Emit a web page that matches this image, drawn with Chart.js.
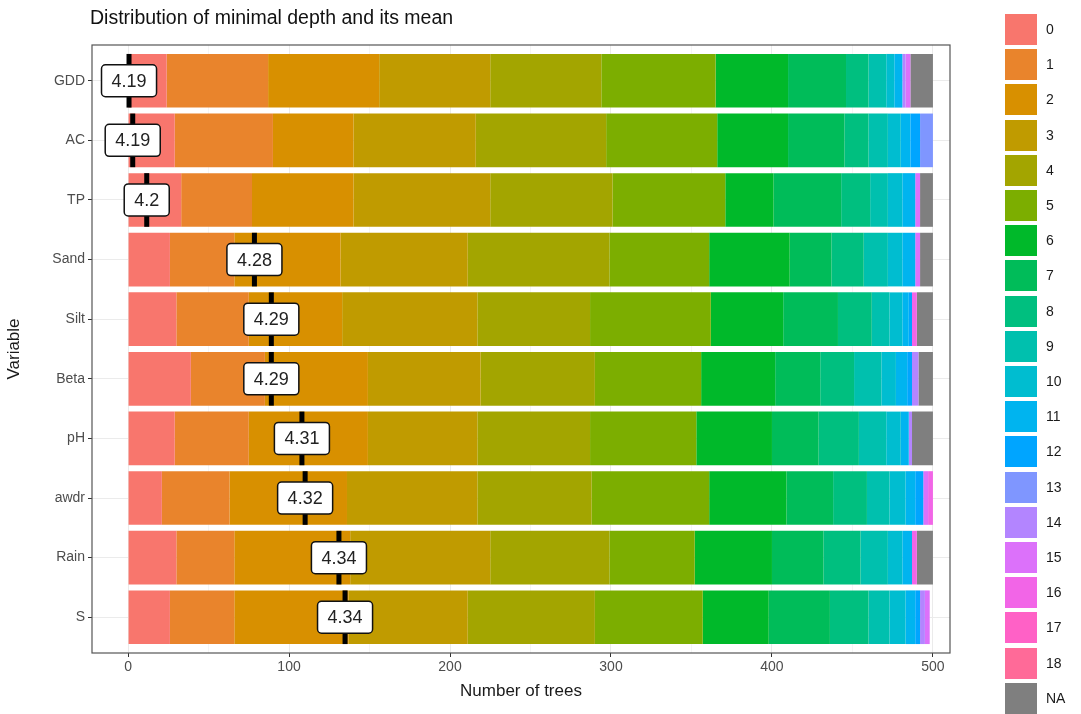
<!DOCTYPE html>
<html>
<head>
<meta charset="utf-8">
<title>Distribution of minimal depth and its mean</title>
<script src="https://cdn.jsdelivr.net/npm/chart.js@4.4.1/dist/chart.umd.min.js"></script>
<style>
  body { margin: 0; background: #fff; font-family: "Liberation Sans", Arial, sans-serif; }
  #wrap { position: relative; width: 1081px; height: 714px; }
  #chart_title { position: absolute; left: 90px; top: 6px; font-size: 19.5px; color: #111; white-space: nowrap; }
  #legend { position: absolute; left: 1005px; top: 14px; }
  .key { position: absolute; left: 0; width: 32px; height: 31px; }
  .lab { position: absolute; left: 41px; font-size: 14px; color: #1a1a1a; line-height: 31px; }
</style>
</head>
<body>
<div id="wrap">
  <canvas id="depth_Chart" width="1081" height="714"></canvas>
  <div id="chart_title">Distribution of minimal depth and its mean</div>
  <div id="legend"></div>
</div>
<script>
// variables, top to bottom
const variables = ['GDD', 'AC', 'TP', 'Sand', 'Silt', 'Beta', 'pH', 'awdr', 'Rain', 'S'];

// minimal depth levels (0..18 then NA) and their fill colours
const depthLevels = ['0', '1', '2', '3', '4', '5', '6', '7', '8', '9', '10',
  '11', '12', '13', '14', '15', '16', '17', '18', 'NA'];
const depthColors = ['#F8766D', '#E9842C', '#D89000', '#C09B00', '#A3A500', '#7CAE00',
  '#00B92A', '#00BC59', '#00BF7F', '#00C0AE', '#00BDD0', '#00B4EF', '#00A5FF',
  '#7F96FF', '#B385FF', '#DC71FA', '#F265E7', '#FF61C6', '#FF6A98', '#7F7F7F'];

// number of trees for each minimal depth (same order as depthLevels)
const gdd  = [24, 63, 69, 69, 69, 71, 45, 36, 14, 11, 5, 5, 0, 0, 2, 3, 0, 0, 0, 14];
const ac   = [29, 61, 50, 76, 81, 69, 44, 35, 15, 12, 8, 6, 6, 8, 0, 0, 0, 0, 0, 0];
const tp   = [33, 44, 63, 85, 76, 70, 30, 42, 18, 11, 9, 8, 0, 0, 0, 3, 0, 0, 0, 8];
const sand = [26, 40, 66, 79, 88, 62, 50, 26, 20, 15, 9, 8, 0, 0, 0, 3, 0, 0, 0, 8];
const silt = [30, 45, 58, 84, 70, 75, 45, 34, 21, 11, 8, 4, 2, 0, 0, 0, 3, 0, 0, 10];
const beta = [39, 46, 64, 70, 71, 66, 46, 28, 21, 17, 9, 7, 3, 0, 4, 0, 0, 0, 0, 9];
const ph   = [29, 46, 74, 68, 70, 66, 47, 29, 25, 17, 9, 5, 0, 0, 2, 0, 0, 0, 0, 13];
const awdr = [21, 42, 73, 81, 71, 73, 48, 29, 21, 14, 10, 6, 5, 0, 0, 3, 3, 0, 0, 0];
const rain = [30, 36, 72, 87, 74, 53, 48, 32, 23, 17, 9, 6, 0, 0, 0, 0, 3, 0, 0, 10];
const s    = [26, 40, 71, 74, 79, 67, 41, 38, 24, 13, 10, 6, 3, 0, 3, 3, 0, 0, 0, 0];
const treeCounts = [gdd, ac, tp, sand, silt, beta, ph, awdr, rain, s];

// mean minimal depth: printed value and where its marker sits on the x axis
const meanLabels = ['4.19', '4.19', '4.2', '4.28', '4.29', '4.29', '4.31', '4.32', '4.34', '4.34'];
const meanPos = [0.6, 2.9, 11.6, 78.5, 89, 89, 108, 110, 131, 134.8];

const xTicks = [0, 50, 100, 150, 200, 250, 300, 350, 400, 450, 500];

const datasets = depthLevels.map((lvl, k) => ({
  label: lvl,
  data: treeCounts.map((row, i) => ({ x: row[k], y: i + 1 })),
  backgroundColor: depthColors[k],
  borderWidth: 0
}));

const meanMarker = {
  id: 'meanMarker',
  afterDatasetsDraw(chart) {
    const { ctx, scales: { x, y } } = chart;
    const bars = chart.getDatasetMeta(0).data;
    ctx.save();
    ctx.font = '18px "Liberation Sans", Arial, sans-serif';
    ctx.textAlign = 'center';
    ctx.textBaseline = 'middle';
    meanPos.forEach((m, i) => {
      const px = x.getPixelForValue(m);
      const py = y.getPixelForValue(i + 1);
      const h = bars[i].height;
      ctx.fillStyle = '#000';
      ctx.fillRect(px - 2.5, py - h / 2, 5, h);
      const w = ctx.measureText(meanLabels[i]).width + 20;
      const bh = 32;
      ctx.beginPath();
      if (ctx.roundRect) ctx.roundRect(px - w / 2, py - bh / 2, w, bh, 4);
      else ctx.rect(px - w / 2, py - bh / 2, w, bh);
      ctx.fillStyle = '#fff';
      ctx.fill();
      ctx.lineWidth = 1.5;
      ctx.strokeStyle = '#111';
      ctx.stroke();
      ctx.fillStyle = '#222';
      ctx.fillText(meanLabels[i], px, py + 1);
    });
    ctx.restore();
  },
  afterDraw(chart) {
    // panel border all round
    const { ctx, chartArea: a } = chart;
    ctx.save();
    ctx.strokeStyle = '#555';
    ctx.lineWidth = 1.2;
    ctx.strokeRect(a.left, a.top, a.right - a.left, a.bottom - a.top);
    ctx.restore();
  }
};

const ctx_depth = document.getElementById('depth_Chart').getContext('2d');
const myChartDepth = new Chart(ctx_depth, {
  type: 'bar',
  data: { datasets: datasets },
  options: {
    indexAxis: 'y',
    responsive: false,
    animation: false,
    layout: { padding: { top: 45, right: 131, left: 0, bottom: 0 } },
    datasets: { bar: { barPercentage: 0.9, categoryPercentage: 1 } },
    plugins: { legend: { display: false }, tooltip: { enabled: false } },
    scales: {
      x: {
        type: 'linear',
        stacked: true,
        min: -22.4,
        max: 510.6,
        afterBuildTicks: sc => { sc.ticks = xTicks.map(v => ({ value: v })); },
        afterFit: sc => { sc.height = 61; },
        border: { display: false },
        grid: {
          color: c => (c.tick && c.tick.value % 100 === 0) ? '#EBEBEB' : '#F5F5F5',
          tickColor: c => (c.tick && c.tick.value % 100 === 0) ? '#333' : 'rgba(0,0,0,0)',
          tickLength: 4
        },
        ticks: {
          autoSkip: false,
          maxRotation: 0,
          padding: 2,
          color: '#4D4D4D',
          font: { size: 14, family: '"Liberation Sans", Arial, sans-serif' },
          callback: v => v % 100 === 0 ? String(v) : ''
        },
        title: {
          display: true,
          text: 'Number of trees',
          color: '#1a1a1a',
          font: { size: 17, family: '"Liberation Sans", Arial, sans-serif' },
          padding: { top: 0, bottom: 12 }
        }
      },
      y: {
        type: 'linear',
        stacked: true,
        reverse: true,
        offset: false,
        min: 0.4,
        max: 10.6,
        afterBuildTicks: sc => { sc.ticks = variables.map((v, i) => ({ value: i + 1 })); },
        afterFit: sc => { sc.width = 92; },
        border: { display: false },
        grid: { offset: false, color: '#EBEBEB', tickColor: '#333', tickLength: 4 },
        ticks: {
          autoSkip: false,
          padding: 3,
          color: '#4D4D4D',
          font: { size: 14, family: '"Liberation Sans", Arial, sans-serif' },
          callback: v => variables[Math.round(v) - 1] || ''
        },
        title: {
          display: true,
          text: 'Variable',
          color: '#1a1a1a',
          font: { size: 17, family: '"Liberation Sans", Arial, sans-serif' },
          padding: { top: 4, bottom: 0 }
        }
      }
    }
  },
  plugins: [meanMarker]
});

// legend on the right
const legendBox = document.getElementById('legend');
depthLevels.forEach((lvl, k) => {
  const top = k * 35.2;
  legendBox.insertAdjacentHTML('beforeend',
    '<div class="key" style="top:' + top + 'px;background:' + depthColors[k] + '"></div>' +
    '<div class="lab" style="top:' + top + 'px">' + lvl + '</div>');
});
</script>
</body>
</html>
